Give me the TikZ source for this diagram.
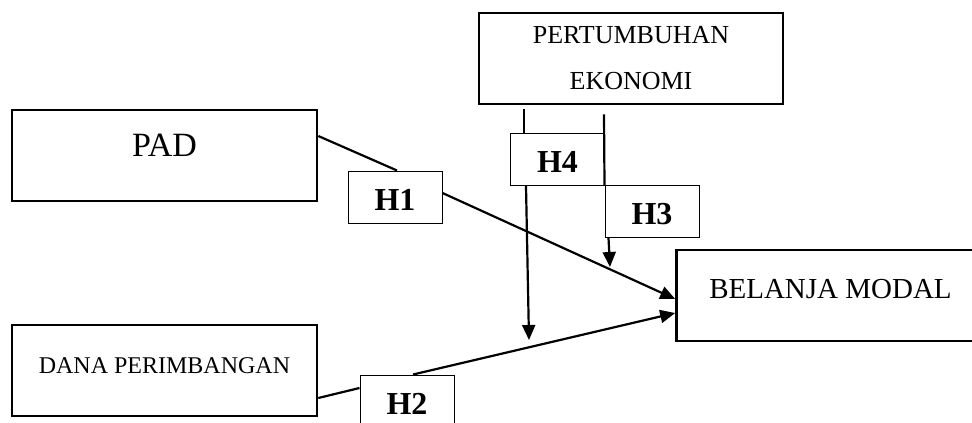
\documentclass[tikz,border=0pt]{standalone}
\usepackage{fontspec}
\setmainfont{Liberation Serif}
\usetikzlibrary{arrows.meta}

\begin{document}
\begin{tikzpicture}[x=1pt, y=-1pt,
    box/.style={rectangle, draw=black, line width=2.6pt, inner sep=0pt,
                minimum width=305pt, minimum height=91pt},
    hyp/.style={rectangle, draw=black, line width=1pt, fill=white, inner sep=0pt,
                minimum width=94pt, minimum height=52pt, text height=26pt,
                font=\fontsize{32}{32}\selectfont\bfseries},
    ln/.style={draw=black, line width=2.2pt},
    ar/.style={ln, -{Triangle[length=15pt, width=13pt]}}
]
\useasboundingbox (0,0) rectangle (972,423);
\node[box, text depth=20pt, font=\fontsize{34}{40}\selectfont] (pad) at (164.5,155.5) {PAD};
\node[box, text depth=9pt, font=\fontsize{24}{30}\selectfont] (dana) at (164.5,370.5) {DANA PERIMBANGAN};
\node[box, minimum width=304pt, align=center, font=\fontsize{26}{46}\selectfont] (pert) at (631,58.5)
    {PERTUMBUHAN\\EKONOMI};
\node[box, minimum width=308pt, text depth=13pt, font=\fontsize{29}{34}\selectfont] (belanja) at (830.5,295.5)
    {BELANJA MODAL};
\node[hyp] (h1) at (395,197) {H1};
\node[hyp] (h4) at (557.5,159.5) {H4};
\node[hyp] (h3) at (652,211.5) {H3};
\node[hyp] (h2) at (407,401) {H2};
\coordinate (m4) at (529,340);
\coordinate (m3) at (610,267);
\draw[ln] ([yshift=19.5pt]pad.east) -- ([xshift=2pt]h1.north);
\draw[ar] ([yshift=4pt]h1.east) -- ([yshift=-3.5pt]belanja.west);
\draw[ln] ([yshift=-27.5pt]dana.east) -- ([yshift=13pt]h2.west);
\draw[ar] ([xshift=6pt]h2.north) -- ([yshift=-17.5pt]belanja.west);
\draw[ln] ([xshift=-107pt,yshift=-4pt]pert.south) -- ([xshift=-33.5pt]h4.north);
\draw[ar] ([xshift=-31.5pt]h4.south) -- (m4);
\draw[ln] ([xshift=-27pt,yshift=-9pt]pert.south) -- (h3.north west);
\draw[ar] ([xshift=4pt]h3.south west) -- (m3);
\end{tikzpicture}
\end{document}
